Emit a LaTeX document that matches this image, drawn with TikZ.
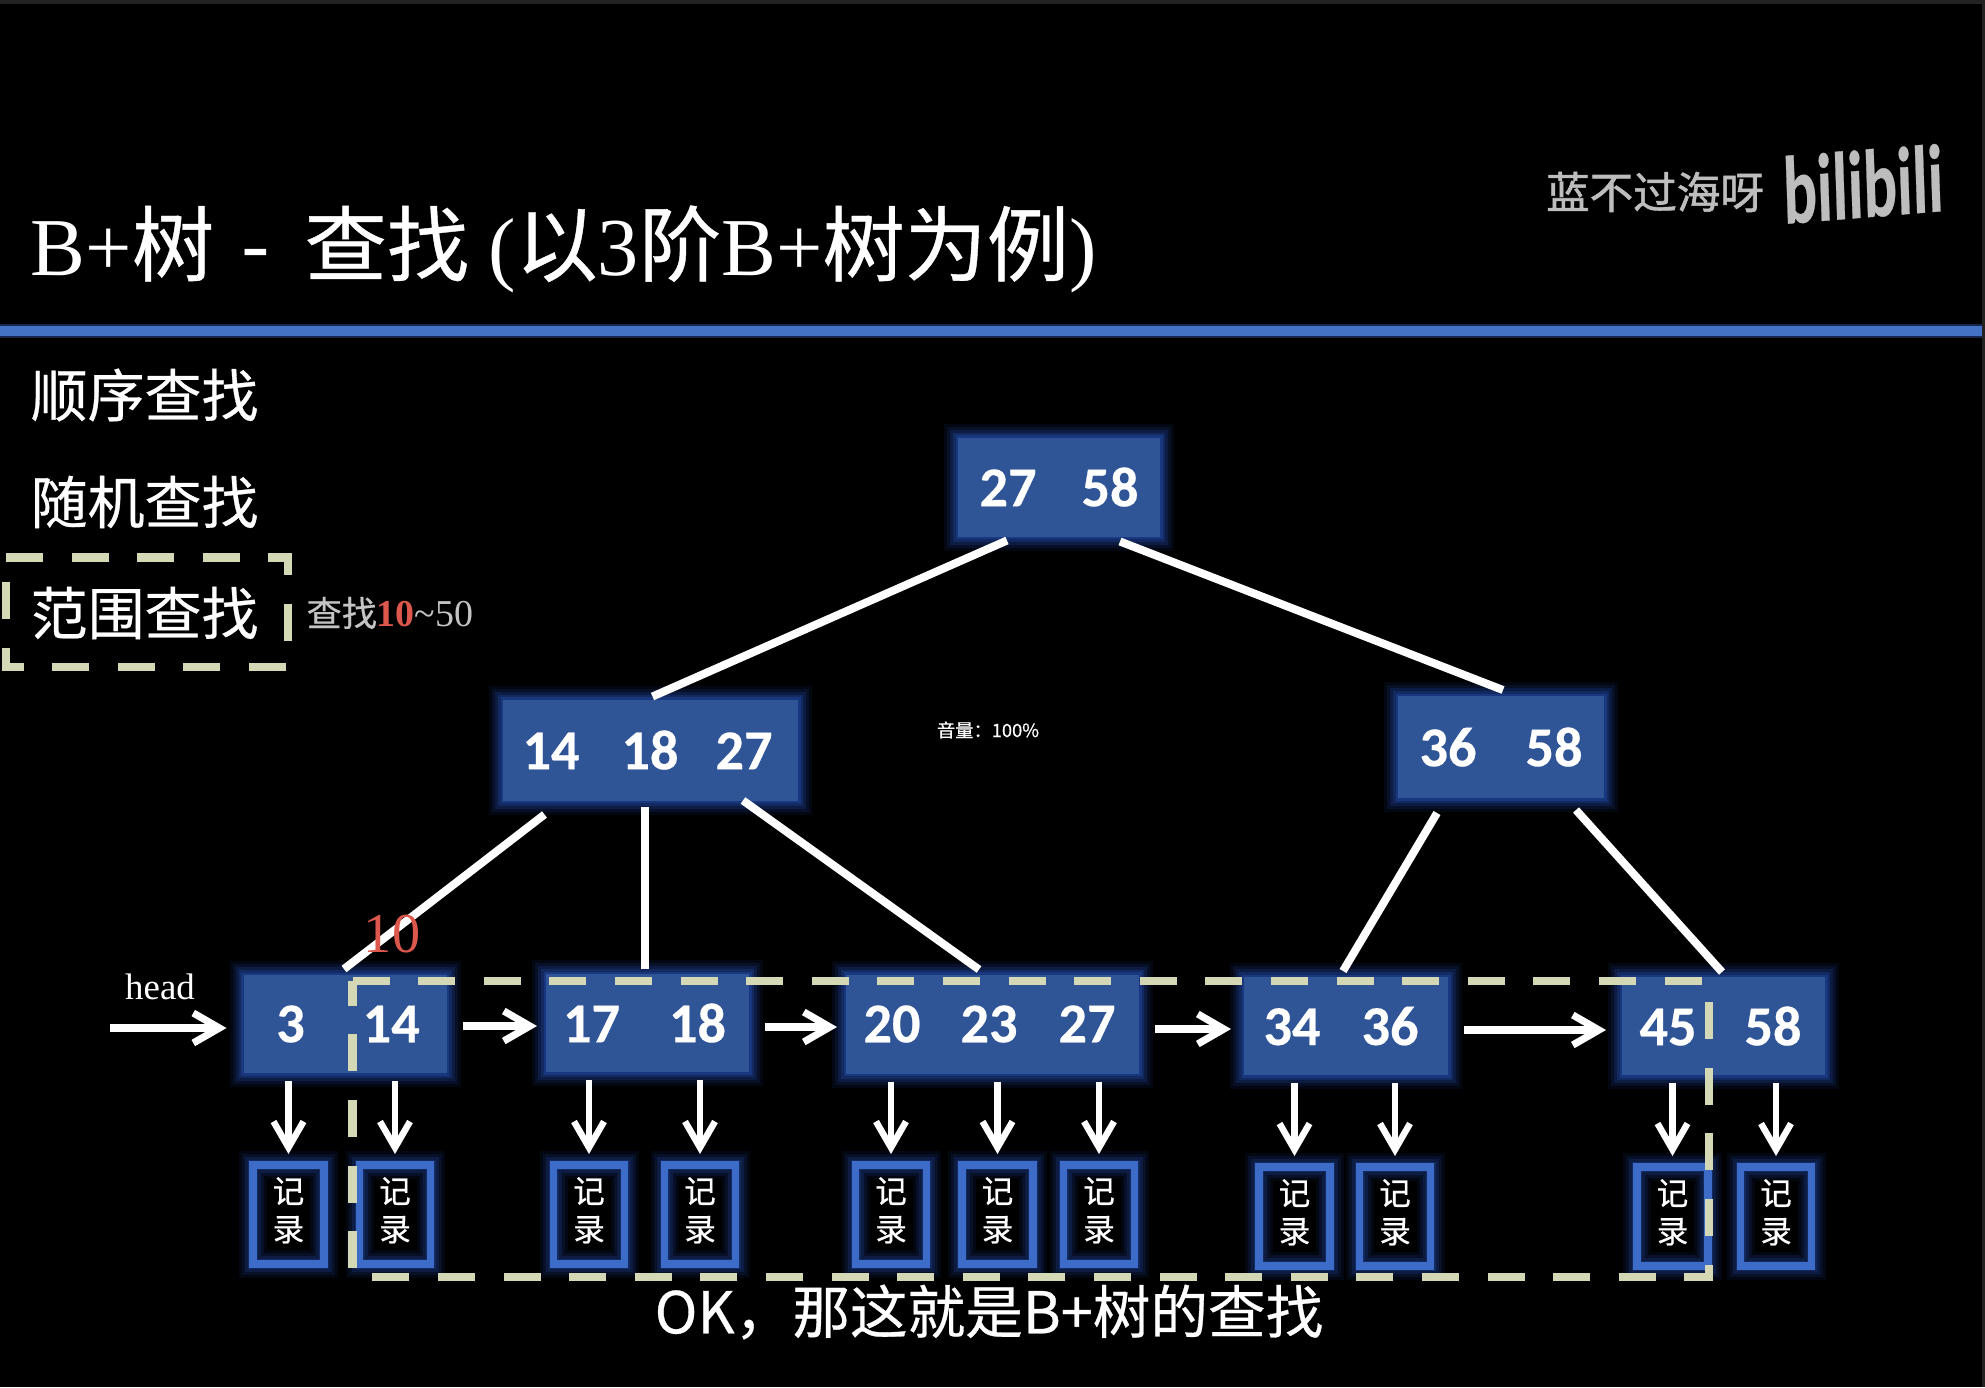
\documentclass[tikz,border=0pt]{standalone}
\usepackage{fontspec}
\setmainfont{Liberation Serif}
\newfontfamily\cjk[FakeBold=.5]{Noto Sans CJK SC}
\newfontfamily\cjkmark[FakeBold=1.4]{Noto Sans CJK SC}
\newfontfamily\keyfont[FakeBold=.4]{Carlito}
\usetikzlibrary{arrows.meta,calc}
\definecolor{screenbg}{HTML}{000000}
\definecolor{stripgray}{HTML}{222222}
\definecolor{rulecol}{HTML}{4472C4}
\definecolor{ruleglow}{HTML}{16264F}
\definecolor{keyblue}{HTML}{2F5597}
\definecolor{glowblue}{HTML}{2A57C4}
\definecolor{recblue}{HTML}{3D6CC8}
\definecolor{dashcol}{HTML}{D5D8B5}
\definecolor{markred}{HTML}{DC574C}
\definecolor{wmgray}{HTML}{BDBDBD}
\definecolor{hintgray}{HTML}{C4C4C4}
\newcommand{\rectext}{记\\录\rule[-1.1mm]{0pt}{0pt}}
\tikzset{
  softglow/.style={
    preaction={draw=glowblue, line width=2.8mm, opacity=.09},
    preaction={draw=glowblue, line width=2.2mm, opacity=.12},
    preaction={draw=glowblue, line width=1.6mm, opacity=.18},
    preaction={draw=glowblue, line width=1mm, opacity=.24},
    preaction={draw=glowblue, line width=.5mm, opacity=.3}},
  keybox/.style={softglow, fill=keyblue, text=white, inner sep=0pt, outer sep=0pt, font=\keyfont\bfseries\fontsize{16}{18}\selectfont},
  recbox/.style={softglow, draw=recblue, line width=.72mm, text=white, inner sep=0pt, outer sep=0pt, minimum width=7.1mm, minimum height=9.9mm,
    align=center, font=\cjk\fontsize{9}{10.8}\selectfont},
  edgeline/.style={draw=white, line width=.8mm},
  linkarrow/.style={draw=white, line width=.72mm, ->, shorten <=1.6mm, shorten >=.9mm},
  recarrow/.style={draw=white, line width=.65mm, ->, shorten <=.8mm, shorten >=1.1mm},
  rangebox/.style={draw=dashcol, line width=.85mm, line cap=butt, dash pattern=on 3.7mm off 2.86mm},
  sidetext/.style={text=white, inner sep=0pt, font=\cjk\fontsize{16.2}{18}\selectfont}
}
\begin{document}
\begin{tikzpicture}[x=.1mm, y=-.1mm, >={Straight Barb[length=2.6mm,width=3mm]}]
  \useasboundingbox (0,0) rectangle (1985,1387);
  \fill[screenbg] (0,0) rectangle (1985,1387);
  \fill[stripgray] (0,0) rectangle (1985,4);
  \fill[stripgray] (1982,0) rectangle (1985,1387);
  \fill[ruleglow] (0,324) rectangle (1982,338);
  \fill[rulecol] (0,326) rectangle (1982,336);

  \node[anchor=base west, text=white, inner sep=0pt, font=\fontsize{23.4}{28}\selectfont] (title) at (30,275)
    {B+{\cjk 树}\hspace{2.7mm}{\cjk -}\hspace{3.5mm}{\cjk 查找}\hspace{1.9mm}({\cjk 以}3{\cjk 阶}B+{\cjk 树为例})};
  \node[sidetext, anchor=west] (seqfind) at (30,395) {顺序查找};
  \node[sidetext, anchor=west] (randfind) at (30,502) {随机查找};
  \node[sidetext, anchor=west] (rangefind) at (30,613) {范围查找};
  \node[anchor=west, inner sep=0pt, text=hintgray, font=\fontsize{10.8}{12}\selectfont] (hint) at (306,613)
    {{\cjk\fontsize{10}{12}\selectfont 查找}\textcolor{markred}{\bfseries 10}\textasciitilde50};
  \draw[rangebox] (6,557.5) -- (288,557.5) -- (288,667) -- (6,667) -- cycle;

  \node[text=wmgray, inner sep=0pt, font=\cjkmark\fontsize{12.4}{14}\selectfont] (mark) at (1655,192) {蓝不过海呀};
  \node[text=wmgray, inner sep=0pt, xscale=.65, rotate=3, transform shape, font=\keyfont\bfseries\fontsize{27.5}{32}\selectfont] (logo) at (1863,184) {bilibili};

  \node[keybox, minimum width=20.2mm, minimum height=9.9mm] (root) at (1059,487) {27\hspace{4.5mm}58};
  \node[keybox, minimum width=29.5mm, minimum height=10.1mm] (midl) at (650.5,750) {14\hspace{4.2mm}18\hspace{3.7mm}27\kern.6mm};
  \node[keybox, minimum width=20.6mm, minimum height=10.2mm] (midr) at (1501,747) {36\hspace{4.9mm}58};

  \node[keybox, minimum width=20.3mm, minimum height=9.8mm] (leafa) at (345,1024) {\hspace{.6mm}3\hspace{5.8mm}14};
  \node[keybox, minimum width=20.3mm, minimum height=9.8mm] (leafb) at (647.5,1023) {17\hspace{4.9mm}18\kern.6mm};
  \node[keybox, minimum width=29.3mm, minimum height=9.9mm] (leafc) at (992.5,1024) {20\hspace{4mm}23\hspace{4.1mm}27\kern.6mm};
  \node[keybox, minimum width=20.4mm, minimum height=9.8mm] (leafd) at (1346,1026) {34\hspace{4.1mm}36\kern1mm};
  \node[keybox, minimum width=20.3mm, minimum height=9.8mm] (leafe) at (1723.5,1026) {45\hspace{4.8mm}58\kern.6mm};

  \node[recbox] (reca) at (288.5,1214.5) {\rectext};
  \node[recbox] (recb) at (395,1214.5) {\rectext};
  \node[recbox] (recc) at (589,1214.5) {\rectext};
  \node[recbox] (recd) at (700,1214.5) {\rectext};
  \node[recbox] (rece) at (891,1214.5) {\rectext};
  \node[recbox] (recf) at (997.5,1214.5) {\rectext};
  \node[recbox] (recg) at (1099,1214.5) {\rectext};
  \node[recbox] (rech) at (1294.5,1216.5) {\rectext};
  \node[recbox] (reci) at (1395,1216.5) {\rectext};
  \node[recbox] (recj) at (1672.5,1216.5) {\rectext};
  \node[recbox] (reck) at (1776,1216.5) {\rectext};

  \draw[edgeline] ($(root.south)+(-52,4)$) -- ($(midl.north)+(2,-3)$);
  \draw[edgeline] ($(root.south)+(61,5)$) -- ($(midr.north)+(2,-6)$);
  \draw[edgeline] ($(midl.south)+(-106,14)$) -- ($(leafa.north)+(-1,-6)$);
  \draw[edgeline] ($(midl.south)+(-5.5,6)$) -- ($(leafb.north)+(-2.5,-5)$);
  \draw[edgeline] ($(midl.south)+(92.5,0)$) -- ($(leafc.north)+(-13.5,-5)$);
  \draw[edgeline] ($(midr.south)+(-64,15)$) -- ($(leafd.north)+(-3,-6)$);
  \draw[edgeline] ($(midr.south)+(75,12)$) -- ($(leafe.north)+(-1.5,-5)$);

  \coordinate (headstart) at (110,1028);
  \node[text=white, inner sep=0pt, font=\fontsize{10.5}{12}\selectfont] (headlabel) at (160,987) {head};
  \draw[linkarrow, shorten <=0mm, shorten >=1.7mm] (headstart) -- (leafa.west |- headstart);
  \draw[linkarrow] ($(leafa.east)+(0,2)$) -- ($(leafb.west)+(0,3)$);
  \draw[linkarrow] ($(leafb.east)+(0,4)$) -- ($(leafc.west)+(0,3)$);
  \draw[linkarrow, shorten >=1.3mm] ($(leafc.east)+(0,5)$) -- ($(leafd.west)+(0,3)$);
  \draw[linkarrow, shorten >=1.6mm] ($(leafd.east)+(0,4)$) -- ($(leafe.west)+(0,4)$);

  \draw[recarrow] (reca.north |- leafa.south) -- (reca.north);
  \draw[recarrow] (recb.north |- leafa.south) -- (recb.north);
  \draw[recarrow] (recc.north |- leafb.south) -- (recc.north);
  \draw[recarrow] (recd.north |- leafb.south) -- (recd.north);
  \draw[recarrow] (rece.north |- leafc.south) -- (rece.north);
  \draw[recarrow] (recf.north |- leafc.south) -- (recf.north);
  \draw[recarrow] (recg.north |- leafc.south) -- (recg.north);
  \draw[recarrow] (rech.north |- leafd.south) -- (rech.north);
  \draw[recarrow] (reci.north |- leafd.south) -- (reci.north);
  \draw[recarrow] (recj.north |- leafe.south) -- (recj.north);
  \draw[recarrow] (reck.north |- leafe.south) -- (reck.north);

  \draw[rangebox] (352.6,981) -- (1709,981) -- (1709,1277) -- (352.6,1277) -- cycle;
  \node[text=markred, inner sep=0pt, font=\fontsize{16}{20}\selectfont] (tenmark) at (392,934) {10};

  \node[text=white, inner sep=0pt, font=\cjk\fontsize{5.2}{7}\selectfont] (volume) at (988,730) {音量：100\%};
  \node[text=white, inner sep=0pt, font=\cjk\fontsize{16.4}{19}\selectfont] (subtitle) at (989,1312) {OK，那这就是B+树的查找};
\end{tikzpicture}
\end{document}
